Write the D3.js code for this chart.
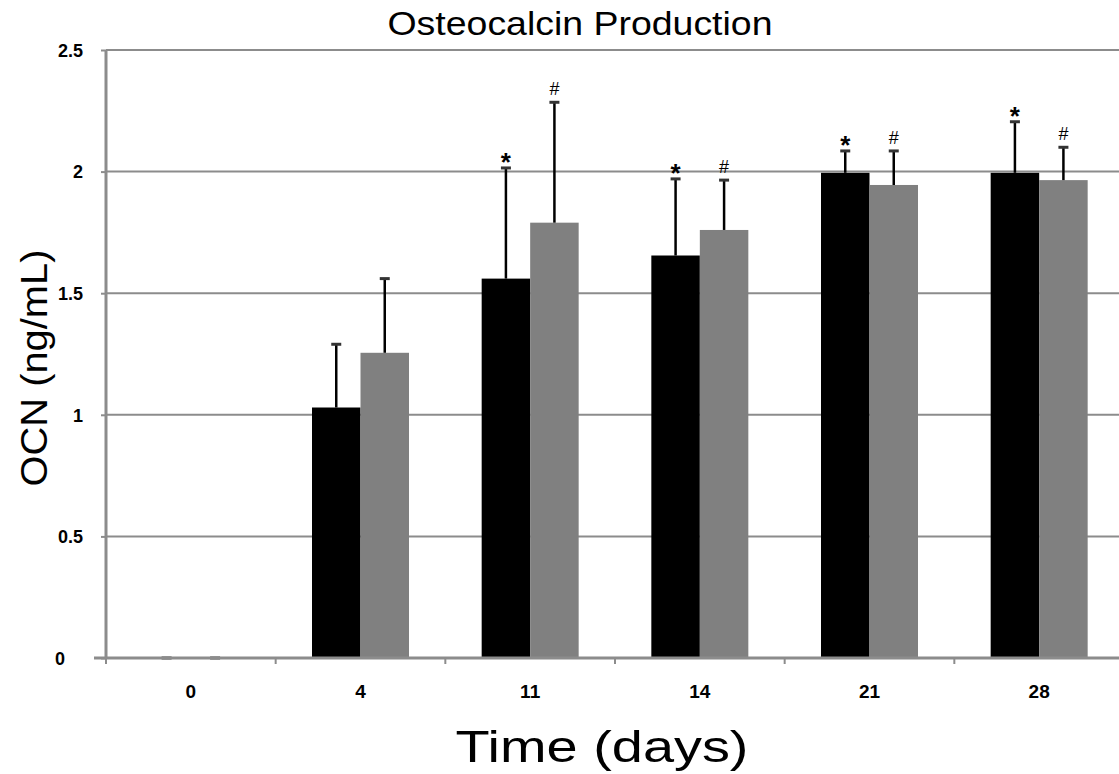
<!DOCTYPE html>
<html lang="en">
<head>
    <meta charset="utf-8">
    <title>Osteocalcin Production</title>
    <script src="https://d3js.org/d3.v7.min.js" charset="utf-8"></script>
    <style type="text/css">
        body { margin: 0; background: #fff; }
        text { font-family: "Liberation Sans", Arial, sans-serif; }
    </style>
</head>
<body>
    <script type="text/javascript">
    // data
    var days = ["0", "4", "11", "14", "21", "28"];
    var seriesA = [0, 1.03, 1.56, 1.655, 1.995, 1.995];       // black
    var seriesB = [0, 1.255, 1.79, 1.76, 1.945, 1.965];       // gray
    var errA = [0, 0.26, 0.455, 0.315, 0.09, 0.21];
    var errB = [0, 0.305, 0.495, 0.205, 0.14, 0.135];
    var markA = ["", "", "*", "*", "*", "*"];
    var markB = ["", "", "#", "#", "#", "#"];
    var yTicks = [0, 0.5, 1, 1.5, 2, 2.5];

    var width = 1119, height = 774;
    var plotLeft = 106, plotRight = 1124, plotTop = 50, plotBottom = 658;
    var font = "'Liberation Sans', Arial, sans-serif";

    var svg = d3.select("body").append("svg")
        .attr("width", width)
        .attr("height", height);

    var x = d3.scaleBand().domain(days).range([plotLeft, plotRight]);
    var y = d3.scaleLinear().domain([0, 2.5]).range([plotBottom, plotTop]);
    var barW = 48.5;

    var rows = days.map(function (d, i) {
        return [
            { day: d, v: seriesA[i], e: errA[i], m: markA[i], off: -barW, fill: "#000" },
            { day: d, v: seriesB[i], e: errB[i], m: markB[i], off: 0, fill: "#808080" }
        ];
    }).flat();

    // gridlines
    svg.append("g").selectAll("line")
        .data(yTicks.filter(function (t) { return t > 0; }))
        .enter().append("line")
        .attr("x1", plotLeft).attr("x2", width)
        .attr("y1", function (d) { return y(d); })
        .attr("y2", function (d) { return y(d); })
        .attr("stroke", "#8c8c8c")
        .attr("stroke-width", 2);

    // bars
    svg.append("g").selectAll("rect")
        .data(rows)
        .enter().append("rect")
        .attr("x", function (d) { return x(d.day) + x.bandwidth() / 2 + d.off; })
        .attr("y", function (d) { return y(d.v); })
        .attr("width", barW)
        .attr("height", function (d) { return plotBottom - y(d.v); })
        .attr("fill", function (d) { return d.fill; });

    // error bars (upper only)
    var eb = svg.append("g").selectAll("g")
        .data(rows)
        .enter().append("g")
        .attr("transform", function (d) {
            return "translate(" + (x(d.day) + x.bandwidth() / 2 + d.off + barW / 2) + ",0)";
        });
    eb.append("line")
        .attr("x1", 0).attr("x2", 0)
        .attr("y1", function (d) { return y(d.v); })
        .attr("y2", function (d) { return y(d.v + d.e); })
        .attr("stroke", "#000")
        .attr("stroke-width", 2.5);
    eb.append("line")
        .attr("x1", -5).attr("x2", 5)
        .attr("y1", function (d) { return y(d.v + d.e); })
        .attr("y2", function (d) { return y(d.v + d.e); })
        .attr("stroke", "#333")
        .attr("stroke-width", 3);
    eb.append("text")
        .attr("text-anchor", "middle")
        .attr("y", function (d) { return y(d.v + d.e) - (d.m === "*" ? -3 : 7); })
        .style("font-family", font)
        .style("font-weight", function (d) { return d.m === "*" ? "bold" : "normal"; })
        .style("font-size", function (d) { return d.m === "*" ? "26px" : "18px"; })
        .text(function (d) { return d.m; });

    // y axis
    var yAxis = svg.append("g")
        .attr("transform", "translate(" + plotLeft + ",0)")
        .call(d3.axisLeft(y).tickValues(yTicks).tickSize(5).tickPadding(18)
            .tickFormat(function (d) { return d; }));
    yAxis.select(".domain").attr("stroke", "#8c8c8c").attr("stroke-width", 3)
        .attr("d", "M0," + plotTop + "V" + plotBottom);
    yAxis.selectAll(".tick line").attr("stroke", "#8c8c8c").attr("stroke-width", 2);
    yAxis.selectAll(".tick text").attr("dy", "0.35em")
        .style("font-size", "18px").style("font-weight", "bold")
        .style("font-family", font);
    // the zero label sits left-aligned in the original
    yAxis.selectAll(".tick text").filter(function (d) { return d === 0; })
        .attr("text-anchor", "start").attr("x", 55 - plotLeft);

    // x axis
    var xAxis = svg.append("g")
        .attr("transform", "translate(0," + plotBottom + ")")
        .call(d3.axisBottom(x).tickSize(0).tickPadding(27));
    xAxis.select(".domain").attr("stroke", "#8c8c8c").attr("stroke-width", 3)
        .attr("d", "M" + (plotLeft - 12) + ",0H" + width);
    xAxis.selectAll(".tick text")
        .style("font-size", "19px").style("font-weight", "bold")
        .style("font-family", font);
    // ticks between categories
    svg.append("g").selectAll("line")
        .data(days)
        .enter().append("line")
        .attr("x1", function (d) { return x(d); })
        .attr("x2", function (d) { return x(d); })
        .attr("y1", plotBottom).attr("y2", plotBottom + 6)
        .attr("stroke", "#8c8c8c").attr("stroke-width", 2);

    // titles
    svg.append("text")
        .attr("x", 580).attr("y", 35)
        .attr("text-anchor", "middle")
        .attr("textLength", 385).attr("lengthAdjust", "spacingAndGlyphs")
        .style("font-size", "34px").style("font-family", font)
        .text("Osteocalcin Production");
    svg.append("text")
        .attr("x", 602).attr("y", 762)
        .attr("text-anchor", "middle")
        .attr("textLength", 293).attr("lengthAdjust", "spacingAndGlyphs")
        .style("font-size", "44px").style("font-family", font)
        .text("Time (days)");
    svg.append("text")
        .attr("transform", "translate(47,368) rotate(-90)")
        .attr("text-anchor", "middle")
        .attr("textLength", 237).attr("lengthAdjust", "spacingAndGlyphs")
        .style("font-size", "36px").style("font-family", font)
        .text("OCN (ng/mL)");
    </script>
</body>
</html>
